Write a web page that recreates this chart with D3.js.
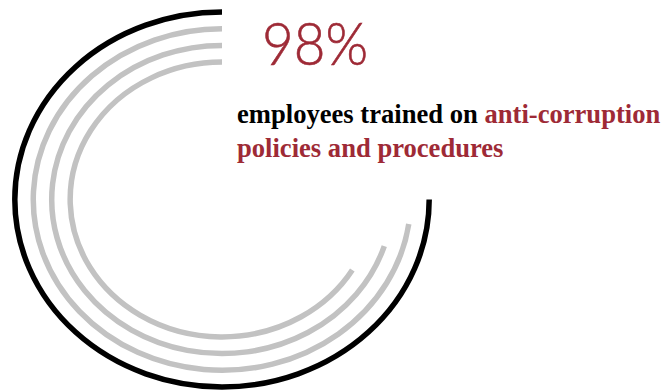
<!DOCTYPE html>
<html>
<head>
<meta charset="utf-8">
<script src="https://cdn.jsdelivr.net/npm/d3@7"></script>
<style>
  html, body { margin: 0; padding: 0; background: #fff; }
  svg { display: block; }
</style>
</head>
<body>
<div id="chart"></div>
<script>
// Ring values (percent). The first ring is the headline figure.
const ringNames = ["trained", "ring2", "ring3", "ring4"];
const ringValues = [98, 95, 91.6, 86.8];
const ringColors = ["#000000", "#c2c2c2", "#c2c2c2", "#c2c2c2"];

const headline = "98%";
const captionLine1 = [
  { text: "employees trained on ", accent: false },
  { text: "anti-corruption", accent: true }
];
const captionLine2 = [
  { text: "policies and procedures", accent: true }
];

const width = 662, height = 390;
const accent = "#9e2a36";

const svg = d3.select("#chart").append("svg")
  .attr("width", width)
  .attr("height", height);

// Angle swept for 100%: 98% lands on three quarters of a turn.
const angle = d3.scaleLinear().domain([0, 100]).range([0, 1.5 * Math.PI * 100 / 98]);
// Ring centre-line radius by ring index (outermost first).
const radius = d3.scaleLinear().domain([0, ringValues.length - 1]).range([187.5, 137.4]);

const cx = 222, cy = 199.5, stretchX = 1.105;

const rings = svg.append("g")
  .attr("transform", `translate(${cx},${cy}) scale(${stretchX},1)`);

rings.selectAll("path")
  .data(ringValues.map((v, i) => ({ name: ringNames[i], value: v, i })))
  .join("path")
  .attr("d", d => {
    const p = d3.path();
    const r = radius(d.i);
    const a0 = -Math.PI / 2;
    const a1 = a0 - angle(d.value);
    p.arc(0, 0, r, a0, a1, true);
    return p.toString();
  })
  .attr("fill", "none")
  .attr("stroke", (d, i) => ringColors[i])
  .attr("stroke-width", 5.5)
  .attr("stroke-linecap", "butt")
  .attr("vector-effect", "non-scaling-stroke");

// Headline figure (condensed to a narrow light face)
svg.append("text")
  .attr("x", 262)
  .attr("y", 65)
  .attr("font-family", "Lato, sans-serif")
  .attr("font-weight", 300)
  .attr("font-size", 60)
  .attr("textLength", 106)
  .attr("lengthAdjust", "spacingAndGlyphs")
  .attr("fill", accent)
  .attr("stroke", accent)
  .attr("stroke-width", 0.6)
  .text(headline);

// Caption
const caption = svg.append("text")
  .attr("font-family", "'Liberation Serif', 'Times New Roman', serif")
  .attr("font-weight", "bold")
  .attr("font-size", 26.6);

[captionLine1, captionLine2].forEach((line, li) => {
  line.forEach((seg, si) => {
    const t = caption.append("tspan")
      .attr("fill", seg.accent ? accent : "#000")
      .text(seg.text);
    if (si === 0) t.attr("x", 237).attr("y", li === 0 ? 123 : 157);
  });
});
</script>
</body>
</html>
